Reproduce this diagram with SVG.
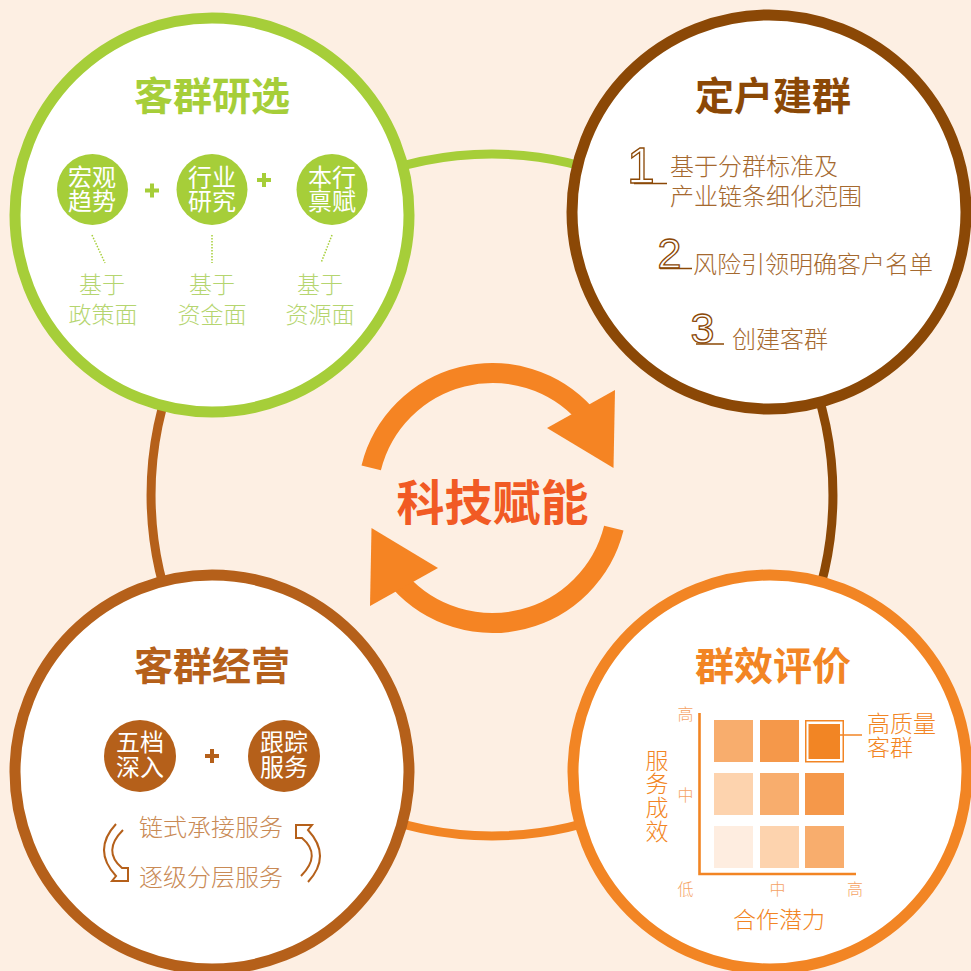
<svg xmlns="http://www.w3.org/2000/svg" width="971" height="971" viewBox="0 0 971 971">
<defs>
<style>
.cjk{font-family:"Noto Sans CJK SC","Noto Sans",sans-serif}
.title{font-size:39px;font-weight:700;text-anchor:middle}
.w{fill:#fff;font-size:24px;text-anchor:middle}
.lbl{font-size:23px;text-anchor:middle;font-weight:300}
.item{font-size:24px;font-weight:300}
.num{font-family:"Liberation Sans",sans-serif;fill:#fff;stroke:#8b4806;stroke-width:1.3;text-anchor:middle}
.ax{font-size:16px;fill:#f5a263;text-anchor:middle;font-weight:300}
.or{fill:#f28524;font-size:23px;font-weight:300}
</style>
</defs>
<rect width="971" height="971" fill="#fdefe3"/>

<g id="connectors" fill="none" stroke-width="9">
<path d="M250.9,253.9 A341,341 0 0 1 733.1,253.9" stroke="#a6ce39"/>
<path d="M733.1,253.9 A341,341 0 0 1 733.1,736.1" stroke="#8b4806"/>
<path d="M733.1,736.1 A341,341 0 0 1 250.9,736.1" stroke="#f28524"/>
<path d="M250.9,736.1 A341,341 0 0 1 250.9,253.9" stroke="#b5601a"/>
</g>

<g id="center-cycle">
<g id="cycle-arrow-top">
<path d="M371.2,467.8 A125,125 0 0 1 585.4,414.4" fill="none" stroke="#f58423" stroke-width="20"/>
<polygon points="615,390 547,428 613.5,468" fill="#f58423"/>
</g>
<g id="cycle-arrow-bottom" transform="rotate(180 492.5 498)">
<path d="M371.2,467.8 A125,125 0 0 1 585.4,414.4" fill="none" stroke="#f58423" stroke-width="20"/>
<polygon points="615,390 547,428 613.5,468" fill="#f58423"/>
</g>
<text x="492.5" y="520" class="cjk" font-size="48" font-weight="700" fill="#f15a24" text-anchor="middle">科技赋能</text>
</g>

<g id="node-research">
<circle cx="212" cy="215" r="197" fill="#fff" stroke="#a6ce39" stroke-width="11"/>
<text x="212" y="110" class="cjk title" fill="#a6ce39">客群研选</text>
<circle cx="92.5" cy="189.5" r="35.5" fill="#a6ce39"/>
<circle cx="212" cy="189.5" r="35.5" fill="#a6ce39"/>
<circle cx="332" cy="189.5" r="35.5" fill="#a6ce39"/>
<text class="cjk w"><tspan x="92" y="186">宏观</tspan><tspan x="92" y="210">趋势</tspan></text>
<text class="cjk w"><tspan x="212" y="186">行业</tspan><tspan x="212" y="210">研究</tspan></text>
<text class="cjk w"><tspan x="332" y="186">本行</tspan><tspan x="332" y="210">禀赋</tspan></text>
<path d="M145,190.5 h14 M152,183.5 v14 M257,180 h14 M264,173 v14" stroke="#a6ce39" stroke-width="4" fill="none"/>
<path d="M92,235 L105,263 M212,235 L212,263 M332,235 L321,263" stroke="#a6ce39" stroke-width="1.5" stroke-dasharray="1.5 1.5" fill="none"/>
<text class="cjk lbl" fill="#b5d56f"><tspan x="102" y="293">基于</tspan><tspan x="103" y="323">政策面</tspan></text>
<text class="cjk lbl" fill="#b5d56f"><tspan x="212" y="293">基于</tspan><tspan x="212" y="323">资金面</tspan></text>
<text class="cjk lbl" fill="#b5d56f"><tspan x="320" y="293">基于</tspan><tspan x="320" y="323">资源面</tspan></text>
</g>

<g id="node-build">
<circle cx="769" cy="212" r="197" fill="#fff" stroke="#8b4806" stroke-width="11"/>
<text x="773" y="110" class="cjk title" fill="#8b4806">定户建群</text>
<text x="641" y="183" class="num" font-size="50">1</text>
<line x1="634" y1="183.5" x2="667" y2="183.5" stroke="#8b4806" stroke-width="1.5"/>
<text class="cjk item" fill="#a5692f"><tspan x="670" y="175">基于分群标准及</tspan><tspan x="670" y="205">产业链条细化范围</tspan></text>
<text x="669.5" y="268" class="num" font-size="43">2</text>
<line x1="660" y1="268.5" x2="692" y2="268.5" stroke="#8b4806" stroke-width="1.5"/>
<text x="693" y="273" class="cjk item" fill="#a5692f">风险引领明确客户名单</text>
<text x="702.5" y="343" class="num" font-size="43">3</text>
<line x1="696" y1="344" x2="724" y2="344" stroke="#8b4806" stroke-width="1.5"/>
<text x="732" y="348" class="cjk item" fill="#a5692f">创建客群</text>
</g>

<g id="node-operate">
<circle cx="212" cy="772" r="197" fill="#fff" stroke="#b5601a" stroke-width="11"/>
<text x="212" y="680" class="cjk title" fill="#b5601a">客群经营</text>
<circle cx="140" cy="756" r="36" fill="#b5601a"/>
<circle cx="284" cy="756" r="36" fill="#b5601a"/>
<text class="cjk w"><tspan x="140" y="751">五档</tspan><tspan x="140" y="776">深入</tspan></text>
<text class="cjk w"><tspan x="284" y="751">跟踪</tspan><tspan x="284" y="776">服务</tspan></text>
<path d="M205,756 h14 M212,749 v14" stroke="#b5601a" stroke-width="4" fill="none"/>
<text class="cjk item" fill="#c98a55" text-anchor="middle"><tspan x="211" y="836">链式承接服务</tspan><tspan x="211" y="886">逐级分层服务</tspan></text>
<g fill="none" stroke="#b5601a" stroke-width="2" stroke-linejoin="miter">
<path d="M301,876 Q322,855 302,838 L296,838 L296,825 L312,825 L308,830 Q332,856 308,882"/>
<path d="M301,876 Q322,855 302,838 L296,838 L296,825 L312,825 L308,830 Q332,856 308,882" transform="rotate(180 212 853)"/>
</g>
</g>

<g id="node-evaluate">
<circle cx="770" cy="772" r="197" fill="#fff" stroke="#f28524" stroke-width="11"/>
<text x="773" y="680" class="cjk title" fill="#f28524">群效评价</text>
<rect x="714" y="720" width="39" height="42" fill="#f8ad6d"/>
<rect x="760" y="720" width="39" height="42" fill="#f5984a"/>
<rect x="805.75" y="720.75" width="37.5" height="41" fill="#fff" stroke="#f28524" stroke-width="1.5"/>
<rect x="808.5" y="724" width="31.5" height="35" fill="#f28524"/>
<rect x="714" y="773" width="39" height="42" fill="#fdd3ae"/>
<rect x="760" y="773" width="39" height="42" fill="#f8ad6d"/>
<rect x="805" y="773" width="39" height="42" fill="#f5984a"/>
<rect x="714" y="826" width="39" height="42" fill="#feede0"/>
<rect x="760" y="826" width="39" height="42" fill="#fdd3ae"/>
<rect x="805" y="826" width="39" height="42" fill="#f8ad6d"/>
<path d="M699.5,713 V874 H856" fill="none" stroke="#f28524" stroke-width="2.6"/>
<line x1="840" y1="735" x2="862" y2="735" stroke="#f28524" stroke-width="1.5"/>
<text class="cjk or"><tspan x="867" y="732">高质量</tspan><tspan x="867" y="756">客群</tspan></text>
<text class="cjk ax"><tspan x="685.5" y="720">高</tspan><tspan x="685.5" y="801">中</tspan><tspan x="685.5" y="895">低</tspan></text>
<text class="cjk ax"><tspan x="777.5" y="895">中</tspan><tspan x="855" y="895">高</tspan></text>
<text class="cjk or" text-anchor="middle"><tspan x="657" y="769">服</tspan><tspan x="657" y="792">务</tspan><tspan x="657" y="816">成</tspan><tspan x="657" y="840">效</tspan></text>
<text x="779" y="928" class="cjk or" text-anchor="middle">合作潜力</text>
</g>
</svg>
